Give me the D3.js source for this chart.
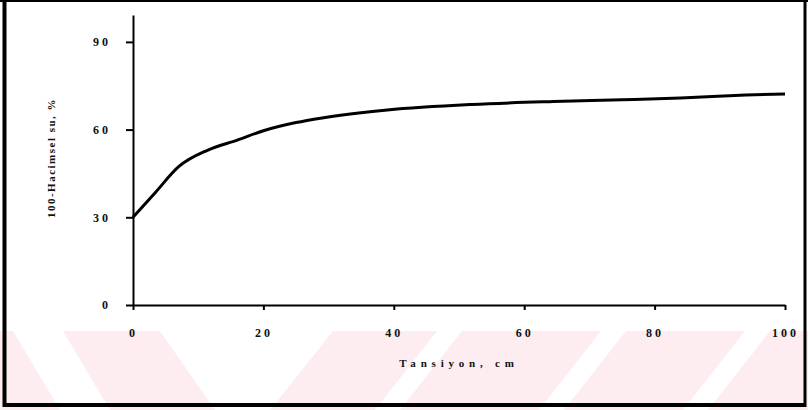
<!DOCTYPE html>
<html>
<head>
<meta charset="utf-8">
<script src="https://cdn.jsdelivr.net/npm/d3@7"></script>
<style>
  body { margin: 0; background: #fff; }
  .axis text { font-family: "Liberation Serif", "DejaVu Serif", serif; font-size: 12px; font-weight: bold; fill: #111; letter-spacing: 3px; }
  .axis path, .axis line { stroke: #000; stroke-width: 2; }
  .title { font-family: "Liberation Serif", "DejaVu Serif", serif; font-size: 11px; font-weight: bold; fill: #111; }
</style>
</head>
<body>
<div id="chart"></div>
<script>
// tension (cm) and 100 - volumetric water (%)
var tension = [0, 3.4, 7, 11.5, 16, 20, 25, 29, 39, 52, 64.5, 75, 84, 94, 100];
var solid   = [30, 38.4, 47.3, 53, 56.4, 59.6, 62.4, 64, 66.7, 68.6, 69.6, 70.2, 70.8, 71.8, 72.2];
var xTicks = [0, 20, 40, 60, 80, 100];
var yTicks = [0, 30, 60, 90];

// pale watermark stripes at the bottom: [top x left, top x right, bottom x left, bottom x right]
var stripes = [
  [13, 63, 60, 110],
  [160, 333, 215, 270],
  [437, 462, 375, 400],
  [601, 626, 539, 564],
  [745, 770, 683, 708]
];

var W = 808, H = 410;
var margin = {top: 15, right: 23, bottom: 105, left: 133},
    width = W - margin.left - margin.right,
    height = H - margin.top - margin.bottom;

var svg = d3.select('#chart').append('svg')
    .attr('width', W)
    .attr('height', H);

// watermark
var wmTop = 331, wmBot = 410;
svg.append('rect')
    .attr('x', 0).attr('y', wmTop)
    .attr('width', W).attr('height', wmBot - wmTop)
    .style('fill', '#fdedf0');
svg.selectAll('.stripe')
    .data(stripes)
  .enter().append('polygon')
    .attr('class', 'stripe')
    .attr('points', function(d) {
      return [[d[0], wmTop], [d[1], wmTop], [d[3], wmBot], [d[2], wmBot]].join(' ');
    })
    .style('fill', '#fff');

// frame
svg.append('line').attr('x1', 0).attr('x2', W).attr('y1', 1).attr('y2', 1)
    .style('stroke', '#000').style('stroke-width', 2);
svg.append('line').attr('x1', 4.5).attr('x2', 4.5).attr('y1', 0).attr('y2', 407)
    .style('stroke', '#000').style('stroke-width', 4);
svg.append('line').attr('x1', 805).attr('x2', 805).attr('y1', 0).attr('y2', 407)
    .style('stroke', '#000').style('stroke-width', 3);
svg.append('line').attr('x1', 3).attr('x2', 806).attr('y1', 405).attr('y2', 405)
    .style('stroke', '#000').style('stroke-width', 4);

var wrapper = svg.append('g')
    .attr('transform', 'translate(' + margin.left + ',' + margin.top + ')');

var xScale = d3.scaleLinear().domain([0, 100]).range([0, 652]),
    yScale = d3.scaleLinear().domain([0, 99.2]).range([height, 0]);

wrapper.append('g')
    .attr('class', 'axis')
    .attr('transform', 'translate(0,' + height + ')')
    .call(d3.axisBottom(xScale).tickValues(xTicks).tickSize(5).tickSizeOuter(0).tickPadding(18));

wrapper.append('g')
    .attr('class', 'axis')
    .call(d3.axisLeft(yScale).tickValues(yTicks).tickSize(7).tickSizeOuter(0).tickPadding(15));

wrapper.append('text')
    .attr('class', 'title')
    .attr('x', 326)
    .attr('y', 352)
    .style('text-anchor', 'middle')
    .style('letter-spacing', '4.8px')
    .text('Tansiyon, cm');

wrapper.append('text')
    .attr('class', 'title')
    .attr('transform', 'translate(-78,' + (158 - margin.top) + ') rotate(-90)')
    .style('text-anchor', 'middle')
    .style('letter-spacing', '1.5px')
    .text('100-Hacimsel su, %');

var points = tension.map(function(t, i) { return [t, solid[i]]; });

var line = d3.line()
    .x(function(d) { return xScale(d[0]); })
    .y(function(d) { return yScale(d[1]); })
    .curve(d3.curveMonotoneX);

wrapper.append('path')
    .datum(points)
    .attr('d', line)
    .style('fill', 'none')
    .style('stroke', '#000')
    .style('stroke-width', 3)
    .style('stroke-linejoin', 'round');
</script>
</body>
</html>
